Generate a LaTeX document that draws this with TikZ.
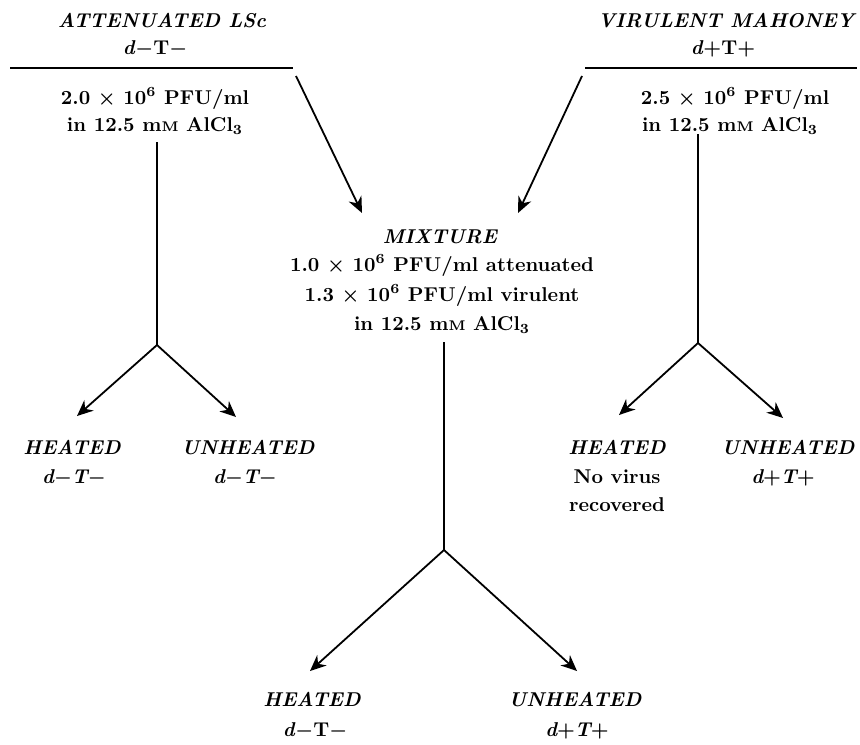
\documentclass[tikz,border=0pt]{standalone}
\usetikzlibrary{arrows.meta}
\tikzset{
  strain/.style={anchor=base, font=\bfseries\itshape\boldmath},
  plain/.style={anchor=base, font=\bfseries\boldmath},
  feed/.style={-{Stealth[length=8pt,width=7pt]}, line width=0.9pt},
  stem/.style={line width=0.9pt},
}
\newcommand{\conc}[1]{#1~$\times$~10$^{6}$ PFU/ml}
\newcommand{\salt}{in 12.5 m{\scriptsize M} AlCl$_3$}

\begin{document}
\begin{tikzpicture}[x=0.5pt, y=-0.5pt]
  \useasboundingbox (0,0) rectangle (860,744);

  % attenuated strain, left column
  \node[strain] (attName) at (162,27) {ATTENUATED LSc};
  \node[plain] (attGeno) at (155,54) {\textit{d}$-$T$-$};
  \coordinate (attRuleL) at (10,68);
  \coordinate (attRuleR) at (293,68);
  \draw[stem] (attRuleL) -- (attRuleR);
  \node[plain] (attConc) at (155,104) {\conc{2.0}};
  \node[plain] (attSalt) at (155,131) {\salt};
  \coordinate (attTop) at (157,142);
  \coordinate (attFork) at (157,345);
  \coordinate (attHeatEnd) at (77,416);
  \coordinate (attColdEnd) at (236,417);
  \draw[stem] (attTop) -- (attFork);
  \draw[feed] (attFork) -- (attHeatEnd);
  \draw[feed] (attFork) -- (attColdEnd);
  \node[strain] (attHeat) at (72,454) {HEATED};
  \node[strain] (attHeatGeno) at (74,483) {\textit{d}$-$\textit{T}$-$};
  \node[strain] (attCold) at (248,454) {UNHEATED};
  \node[strain] (attColdGeno) at (245,483) {\textit{d}$-$\textit{T}$-$};

  % virulent strain, right column
  \node[strain] (virName) at (726,27) {VIRULENT MAHONEY};
  \node[plain] (virGeno) at (723,54) {\textit{d}$+$T$+$};
  \coordinate (virRuleL) at (585,68);
  \coordinate (virRuleR) at (857,68);
  \draw[stem] (virRuleL) -- (virRuleR);
  \node[plain] (virConc) at (735,104) {\conc{2.5}};
  \node[plain] (virSalt) at (730,131) {\salt};
  \coordinate (virTop) at (698,134);
  \coordinate (virFork) at (698,343);
  \coordinate (virHeatEnd) at (619,415);
  \coordinate (virColdEnd) at (783,418);
  \draw[stem] (virTop) -- (virFork);
  \draw[feed] (virFork) -- (virHeatEnd);
  \draw[feed] (virFork) -- (virColdEnd);
  \node[strain] (virHeat) at (617,454) {HEATED};
  \node[plain] (virHeatNo) at (617,483) {No virus};
  \node[plain] (virHeatRec) at (617,511) {recovered};
  \node[strain] (virCold) at (788,454) {UNHEATED};
  \node[strain] (virColdGeno) at (783,483) {\textit{d}$+$\textit{T}$+$};

  % both strains feed the mixture
  \coordinate (attFeed) at (296,76);
  \coordinate (virFeed) at (582,76);
  \coordinate (mixInL) at (362,213);
  \coordinate (mixInR) at (518,213);
  \draw[feed] (attFeed) -- (mixInL);
  \draw[feed] (virFeed) -- (mixInR);

  % mixture, centre column
  \node[strain] (mixName) at (440,243) {MIXTURE};
  \node[plain] (mixAtt) at (442,271) {\conc{1.0} attenuated};
  \node[plain] (mixVir) at (442,301) {\conc{1.3} virulent};
  \node[plain] (mixSalt) at (442,330) {\salt};
  \coordinate (mixTop) at (444,342);
  \coordinate (mixFork) at (444,550);
  \coordinate (mixHeatEnd) at (310,671);
  \coordinate (mixColdEnd) at (577,671);
  \draw[stem] (mixTop) -- (mixFork);
  \draw[feed] (mixFork) -- (mixHeatEnd);
  \draw[feed] (mixFork) -- (mixColdEnd);
  \node[strain] (mixHeat) at (312,706) {HEATED};
  \node[plain] (mixHeatGeno) at (315,736) {\textit{d}$-$T$-$};
  \node[strain] (mixCold) at (575,706) {UNHEATED};
  \node[strain] (mixColdGeno) at (577,736) {\textit{d}$+$\textit{T}$+$};
\end{tikzpicture}
\end{document}
